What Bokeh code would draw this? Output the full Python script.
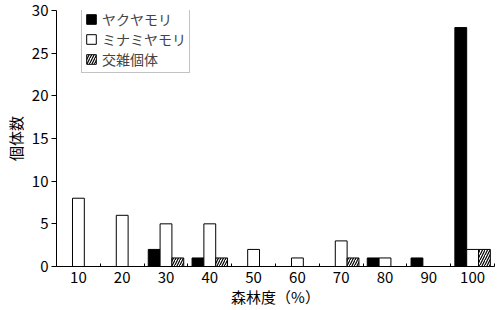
from bokeh.plotting import figure
from bokeh.models import Range1d, FixedTicker, Legend, LegendItem, ColumnDataSource
from bokeh.transform import dodge
from bokeh.embed import file_html
from bokeh.resources import INLINE

categories = ["10", "20", "30", "40", "50", "60", "70", "80", "90", "100"]
yaku = [0, 0, 2, 1, 0, 0, 0, 1, 1, 28]
minami = [8, 6, 5, 5, 2, 1, 3, 1, 0, 2]
hybrid = [0, 0, 1, 1, 0, 0, 1, 0, 0, 2]
series_names = ["ヤクヤモリ", "ミナミヤモリ", "交雑個体"]

FONT = "Noto Sans CJK JP"
pos = list(range(1, len(categories) + 1))
src = ColumnDataSource(dict(x=pos, yaku=yaku, minami=minami, hybrid=hybrid))

p = figure(width=500, height=310, output_backend="svg", toolbar_location=None,
           x_range=Range1d(0.5, len(categories) + 0.5), y_range=Range1d(0, 30),
           min_border_left=56, min_border_right=6, min_border_top=10, min_border_bottom=44)
p.outline_line_color = None
p.grid.grid_line_color = None
p.background_fill_color = "white"
p.border_fill_color = "white"

w = 0.27
r1 = p.vbar(x=dodge("x", -w, range=p.x_range), top="yaku", width=w, source=src,
            fill_color="black", line_color="black", line_width=1)
r2 = p.vbar(x=dodge("x", 0, range=p.x_range), top="minami", width=w, source=src,
            fill_color="white", line_color="black", line_width=1)
r3 = p.vbar(x=dodge("x", w, range=p.x_range), top="hybrid", width=w, source=src,
            fill_color="white", line_color="black", line_width=1,
            hatch_pattern="/", hatch_color="black", hatch_scale=5, hatch_weight=1.2)

# axes
p.xaxis.ticker = FixedTicker(ticks=pos, minor_ticks=[i + 0.5 for i in range(0, len(categories) + 1)])
p.xaxis.major_label_overrides = {i: c for i, c in zip(pos, categories)}
p.xaxis.major_tick_in = 0
p.xaxis.major_tick_out = 0
p.xaxis.minor_tick_in = 3
p.xaxis.minor_tick_out = 0
p.xaxis.axis_label = "森林度（%）"
p.yaxis.ticker = FixedTicker(ticks=[0, 5, 10, 15, 20, 25, 30])
p.yaxis.major_tick_in = 0
p.yaxis.major_tick_out = 5
p.yaxis.axis_label = "個体数"
for ax in (p.xaxis[0], p.yaxis[0]):
    ax.axis_line_color = "black"
    ax.major_tick_line_color = "black"
    ax.major_label_text_font = FONT
    ax.major_label_text_font_size = "15px"
    ax.major_label_text_color = "black"
    ax.axis_label_text_font = FONT
    ax.axis_label_text_font_size = "15px"
    ax.axis_label_text_font_style = "normal"
    ax.axis_label_text_color = "black"
p.xaxis.minor_tick_line_color = "black"
p.yaxis.minor_tick_line_color = None
p.xaxis.major_label_standoff = 5
p.xaxis.axis_label_standoff = 0
p.yaxis.major_label_standoff = 3
p.yaxis.axis_label_standoff = 3

legend = Legend(items=[LegendItem(label=series_names[0], renderers=[r1]),
                       LegendItem(label=series_names[1], renderers=[r2]),
                       LegendItem(label=series_names[2], renderers=[r3])])
legend.margin = 0
legend.padding = 3
legend.spacing = 0
legend.glyph_width = 12
legend.glyph_height = 12
legend.label_height = 17
legend.label_standoff = 5
legend.label_text_font = FONT
legend.label_text_font_size = "14px"
legend.border_line_color = "#888888"
legend.background_fill_alpha = 1
legend.location = (25, 193)
p.add_layout(legend)

open("out.html", "w").write(file_html(p, INLINE))
